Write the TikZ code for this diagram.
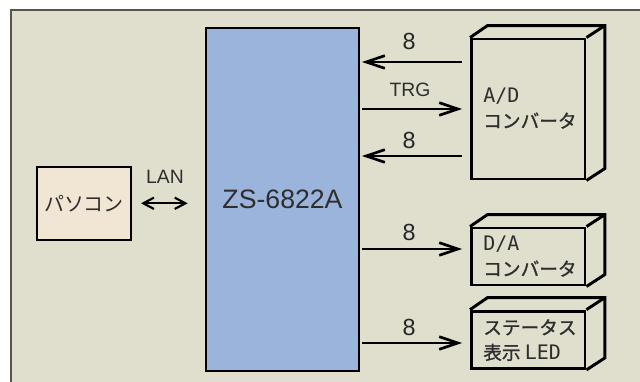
\documentclass[tikz,border=0pt]{standalone}
\usepackage{fontspec}
\setmainfont{Liberation Sans}
\newfontfamily\jp{Noto Sans CJK JP}
\newfontfamily\jpb{Noto Sans CJK JP}[FakeBold=1]
\newfontfamily\hwmono{DejaVu Sans Mono}
\usetikzlibrary{arrows.meta,calc}
\definecolor{bg}{HTML}{E0DFCD}
\definecolor{frameline}{HTML}{55554A}
\definecolor{blk}{HTML}{9BB4DC}
\definecolor{pcfill}{HTML}{F1E6D3}
\definecolor{txt}{HTML}{2E2E2E}
\begin{document}
\begin{tikzpicture}[x=0.75pt,y=-0.75pt,
  sig/.style={line width=2pt,-{Straight Barb[length=14pt,width=9.5pt]}},
  lanarr/.style={line width=1.6pt,{Straight Barb[length=8pt,width=8.5pt]}-{Straight Barb[length=8pt,width=8.5pt]}},
  frontbox/.style={draw,line width=2.2pt,inner sep=0pt,minimum width=85.1pt},
  backline/.style={line width=2.2pt},
  boxtext/.style={anchor=north west,inner sep=0pt,align=left,text=txt,font=\jpb\fontsize{14}{18.75}\selectfont},
  numlab/.style={text=black!85,font=\fontsize{17.5}{20}\selectfont,inner sep=0pt},
  siglab/.style={text=txt,font=\fontsize{14.5}{17}\selectfont,inner sep=0pt}]
\fill[white] (0,0) rectangle (640,382);
\useasboundingbox (0,0) rectangle (640,382);
\fill[bg] (11,10) rectangle (640,382);
\draw[frameline,line width=1pt] (11,382) -- (11,10) -- (640,10);

% main block
\node[draw,line width=1.5pt,fill=blk,inner sep=0pt,minimum width=114.75pt,minimum height=256.9pt,
      text=txt,font=\fontsize{20}{24}\selectfont] (zs) at (282.5,199.75) {ZS-6822A};

% PC
\node[draw,line width=1.5pt,fill=pcfill,inner sep=0pt,minimum width=70pt,minimum height=55pt,
      text=txt,font=\jp\fontsize{15}{18}\selectfont] (pc) at (84,203.3) {パソコン};

% 3D boxes
\node[frontbox,minimum height=105pt] (ad) at (528.25,109) {};
\node[frontbox,minimum height=42.75pt] (da) at (528.25,256.5) {};
\node[frontbox,minimum height=43pt] (st) at (528.25,339.75) {};
\foreach \b in {ad,da,st}{
  \draw[backline] (\b.north west) -- ++(17.5,-12) -| ($(\b.south east)+(18.5,-12)$) -- (\b.south east);
  \draw[backline] (\b.north east) -- ++(18.5,-12);
}

% box texts
\node[boxtext] (adt) at (483,88) {{\hwmono\fontsize{15}{18.75}\selectfont A/D}\\コンバータ};
\node[boxtext] (dat) at (483,236) {{\hwmono\fontsize{15}{18.75}\selectfont D/A}\\コンバータ};
\node[boxtext] (stt) at (483,319) {ステータス\\表示 {\hwmono\fontsize{15}{18.75}\selectfont LED}};

% arrows
\draw[sig,shorten >=1.5pt,shorten <=6pt] (ad.west |- 0,62) -- (zs.east |- 0,62);
\draw[sig,shorten <=1.5pt,shorten >=6pt] (zs.east |- 0,109) -- (ad.west |- 0,109);
\draw[sig,shorten >=1.5pt,shorten <=6pt] (ad.west |- 0,156) -- (zs.east |- 0,156);
\draw[sig,shorten <=1.5pt,shorten >=6pt] (zs.east |- 0,249) -- (da.west |- 0,249);
\draw[sig,shorten <=1.5pt,shorten >=6pt] (zs.east |- 0,343) -- (st.west |- 0,343);
\draw[lanarr,shorten <=7pt,shorten >=13pt] (pc.east) -- (pc.east -| zs.west);

% labels
\node[numlab] (n1) at (409,41) {8};
\node[siglab] (trg) at (410,89.5) {TRG};
\node[numlab] (n2) at (409,140.5) {8};
\node[numlab] (n3) at (409,232) {8};
\node[numlab] (n4) at (409,327) {8};
\node[siglab] (lan) at (165,177) {LAN};
\end{tikzpicture}
\end{document}
